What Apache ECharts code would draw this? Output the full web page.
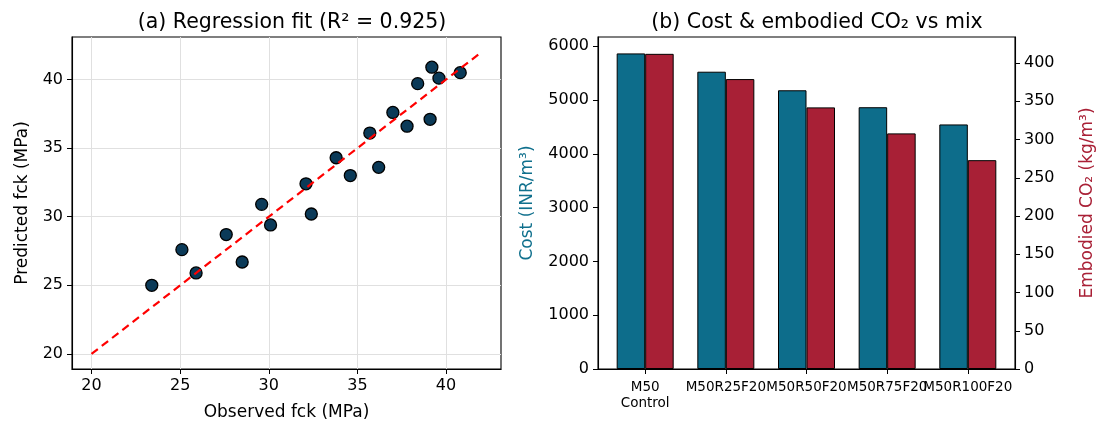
<!DOCTYPE html>
<html>
<head>
<meta charset="utf-8">
<script src="https://cdn.jsdelivr.net/npm/echarts@6/dist/echarts.min.js"></script>
<style>
html,body{margin:0;padding:0;background:#fff;}
#chart{width:1097px;height:423px;}
</style>
</head>
<body>
<div id="chart"></div>
<script>
// ---- Data ----
const observed  = [23.4, 25.1, 25.9, 27.6, 28.5, 29.6, 30.1, 32.1, 32.4, 33.8, 34.6, 35.7, 36.2, 37.0, 37.8, 38.4, 39.1, 39.2, 39.6, 40.8];
const predicted = [25.0, 27.6, 25.9, 28.7, 26.7, 30.9, 29.4, 32.4, 30.2, 34.3, 33.0, 36.1, 33.6, 37.6, 36.6, 39.7, 37.1, 40.9, 40.1, 40.5];
const idealLine = [[20, 20], [42, 42]];
const scatterTicks = [20, 25, 30, 35, 40];

const mixes = ['M50\nControl', 'M50R25F20', 'M50R50F20', 'M50R75F20', 'M50R100F20'];
const cost  = [5865, 5525, 5180, 4865, 4545];
const co2   = [412, 379, 342, 308, 273];
const costTicks = [0, 1000, 2000, 3000, 4000, 5000, 6000];
const co2Ticks  = [0, 50, 100, 150, 200, 250, 300, 350, 400];

// ---- Chart ----
const FONT = 'DejaVu Sans';
const chart = echarts.init(document.getElementById('chart'), null, {renderer: 'canvas'});
const plain = v => String(v);

// bar panel geometry (value x-range -0.585 .. 4.585 like matplotlib margins)
const BX0 = 598, BW = 417, XMIN = -0.585, XMAX = 4.585;
const unitPx = BW / (XMAX - XMIN);

const axisCommon = {
  axisLine: {show: true, onZero: false, lineStyle: {color: '#000', width: 1.1}},
  axisTick: {show: true, inside: false, length: 5, lineStyle: {color: '#000', width: 1}},
  axisLabel: {color: '#000', fontFamily: FONT, fontSize: 16, formatter: plain, showMinLabel: true, showMaxLabel: true, hideOverlap: false},
  nameTextStyle: {fontFamily: FONT, fontSize: 17, color: '#000'},
  nameMoveOverlap: false
};

const option = {
  animation: false,
  backgroundColor: '#fff',
  textStyle: {fontFamily: FONT},
  title: [
    {text: '(a) Regression fit (R² = 0.925)', left: 287, top: 7, textAlign: 'center',
     textStyle: {fontFamily: FONT, fontSize: 20.5, fontWeight: 'normal', color: '#000'}},
    {text: '(b) Cost & embodied CO₂ vs mix', left: 812, top: 7, textAlign: 'center',
     textStyle: {fontFamily: FONT, fontSize: 20.5, fontWeight: 'normal', color: '#000'}}
  ],
  grid: [
    {left: 72, top: 37, width: 429, height: 332, show: true, borderColor: '#000', borderWidth: 1.1, backgroundColor: 'transparent', containLabel: false, outerBoundsMode: 'none'},
    {left: BX0, top: 37, width: BW, height: 332, show: true, borderColor: '#000', borderWidth: 1.1, backgroundColor: 'transparent', containLabel: false, outerBoundsMode: 'none'},
    // label-only grid whose category bands align with the bar positions
    {left: BX0 + (0 - XMIN) * unitPx - unitPx / 2, top: 37, width: unitPx * mixes.length, height: 332, show: false, containLabel: false, outerBoundsMode: 'none'}
  ],
  xAxis: [
    Object.assign({}, axisCommon, {
      type: 'value', gridIndex: 0, min: 18.9, max: 43.1,
      name: 'Observed fck (MPa)', nameLocation: 'middle', nameGap: 35,
      axisTick: Object.assign({}, axisCommon.axisTick, {customValues: scatterTicks}),
      axisLabel: Object.assign({}, axisCommon.axisLabel, {customValues: scatterTicks, margin: 9}),
      splitLine: {show: true, lineStyle: {color: '#e0e0e0', width: 1}}
    }),
    Object.assign({}, axisCommon, {
      type: 'value', gridIndex: 1, min: XMIN, max: XMAX,
      axisTick: Object.assign({}, axisCommon.axisTick, {customValues: [0, 1, 2, 3, 4]}),
      axisLabel: {show: false},
      splitLine: {show: false}
    }),
    {
      type: 'category', gridIndex: 2, data: mixes, boundaryGap: true,
      axisLine: {show: false}, axisTick: {show: false}, splitLine: {show: false},
      axisLabel: {interval: 0, color: '#000', fontFamily: FONT, fontSize: 13.5, lineHeight: 16, margin: 10, hideOverlap: false}
    }
  ],
  yAxis: [
    Object.assign({}, axisCommon, {
      type: 'value', gridIndex: 0, min: 18.9, max: 43.1,
      name: 'Predicted fck (MPa)', nameLocation: 'middle', nameGap: 41, nameRotate: 90,
      axisTick: Object.assign({}, axisCommon.axisTick, {customValues: scatterTicks}),
      axisLabel: Object.assign({}, axisCommon.axisLabel, {customValues: scatterTicks, margin: 9}),
      splitLine: {show: true, lineStyle: {color: '#e0e0e0', width: 1}}
    }),
    Object.assign({}, axisCommon, {
      type: 'value', gridIndex: 1, min: 0, max: 6170, position: 'left',
      name: 'Cost (INR/m³)', nameLocation: 'middle', nameGap: 62, nameRotate: 90,
      nameTextStyle: {fontFamily: FONT, fontSize: 17, color: '#10708d'},
      axisTick: Object.assign({}, axisCommon.axisTick, {customValues: costTicks}),
      axisLabel: Object.assign({}, axisCommon.axisLabel, {customValues: costTicks, margin: 9}),
      splitLine: {show: false}
    }),
    Object.assign({}, axisCommon, {
      type: 'value', gridIndex: 1, min: 0, max: 434, position: 'right',
      name: 'Embodied CO₂ (kg/m³)', nameLocation: 'middle', nameGap: 64, nameRotate: 90,
      nameTextStyle: {fontFamily: FONT, fontSize: 17, color: '#a92036'},
      axisTick: Object.assign({}, axisCommon.axisTick, {customValues: co2Ticks}),
      axisLabel: Object.assign({}, axisCommon.axisLabel, {customValues: co2Ticks, margin: 9}),
      splitLine: {show: false}
    }),
    {type: 'value', gridIndex: 2, show: false, min: 0, max: 1}
  ],
  series: [
    {
      type: 'scatter', xAxisIndex: 0, yAxisIndex: 0, z: 2,
      data: observed.map((x, i) => [x, predicted[i]]),
      symbol: 'circle', symbolSize: 12,
      itemStyle: {color: '#0b3a58', borderColor: '#000', borderWidth: 1.3, opacity: 1}
    },
    {
      type: 'line', xAxisIndex: 0, yAxisIndex: 0, z: 3,
      data: idealLine, showSymbol: false, symbol: 'none',
      lineStyle: {color: '#ff0000', width: 2.2, type: [8, 5]}
    },
    {
      type: 'bar', xAxisIndex: 1, yAxisIndex: 1,
      data: cost.map((v, i) => [i, v]),
      barWidth: 28.5, barGap: '0%',
      itemStyle: {color: '#0d6d8b', borderColor: '#000', borderWidth: 1}
    },
    {
      type: 'bar', xAxisIndex: 1, yAxisIndex: 2,
      data: co2.map((v, i) => [i, v]),
      barWidth: 28.5, barGap: '0%',
      itemStyle: {color: '#a82036', borderColor: '#000', borderWidth: 1}
    }
  ]
};
chart.setOption(option);
</script>
</body>
</html>
